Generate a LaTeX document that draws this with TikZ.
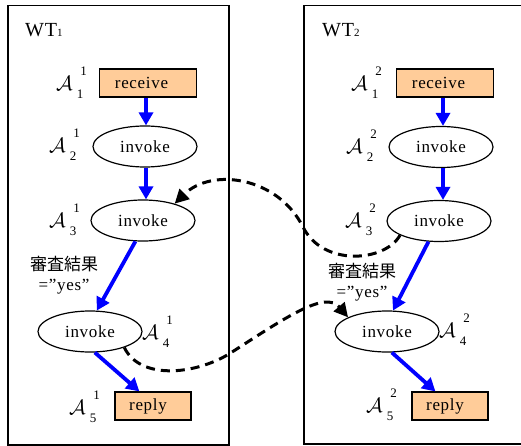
\documentclass[tikz,border=0pt]{standalone}
\usepackage{fontspec}
\setmainfont[LetterSpace=4]{Liberation Serif}
\newfontfamily\jpfont{Noto Sans CJK JP}
\usetikzlibrary{shapes.geometric,arrows.meta}
\definecolor{peach}{RGB}{255,204,153}
\newcommand{\actlbl}[2]{{\fontsize{22}{22}\selectfont$\mathcal{A}$}\kern4pt\raisebox{-8pt}{\fontsize{13}{13}\selectfont #1}\kern-3pt\raisebox{15pt}{\fontsize{13}{13}\selectfont #2}}

\begin{document}
\begin{tikzpicture}[x=1pt,y=-1pt,font=\fontsize{17}{20}\selectfont,
		frame/.style={line width=1.5pt},
		actbox/.style={draw,fill=peach,line width=1.2pt,minimum height=28pt,inner sep=0pt},
		invk/.style={draw,shape=ellipse,line width=1.2pt,minimum width=104pt,minimum height=41pt,inner sep=0pt},
		actlab/.style={anchor=base west,inner sep=0pt},
		cond/.style={align=center,inner sep=0pt},
		flow/.style={draw=blue,line width=3.8pt,-{Triangle[length=13pt,width=14pt]}},
		msg/.style={dash pattern=on 9pt off 6pt,line width=3pt,-{Triangle[length=14pt,width=14pt]}}]
			\useasboundingbox (0,0) rectangle (521,446);
			\draw[frame] (8,5.5) rectangle (229,445);
			\draw[frame] (304,5.5) rectangle (530,444);
			\node[anchor=base west,inner sep=0pt] (WA) at (25,37) {\fontsize{20}{20}\selectfont WT{\fontsize{11}{11}\selectfont 1}};
			\node[anchor=base west,inner sep=0pt] (WB) at (322,37) {\fontsize{20}{20}\selectfont WT{\fontsize{11}{11}\selectfont 2}};

			\node[actbox,minimum width=97pt] (LA) at (148,83) {receive\kern13pt};
			\node[invk] (LB) at (145,146.5) {invoke};
			\node[invk] (LC) at (143,220.5) {invoke};
			\node[invk] (LD) at (90,331.5) {invoke};
			\node[actbox,minimum width=76pt] (LE) at (153,406) {reply\kern10pt};

			\node[actbox,minimum width=97pt] (RA) at (445,83) {receive\kern13pt};
			\node[invk] (RB) at (441,147) {invoke};
			\node[invk] (RC) at (439,221) {invoke};
			\node[invk] (RD) at (387,331.5) {invoke};
			\node[actbox,minimum width=76pt] (RE) at (450,406) {reply\kern10pt};

			\node[actlab] (nLA) at (56,91) {\actlbl{1}{1}};
			\node[actlab] (nLB) at (49,153) {\actlbl{2}{1}};
			\node[actlab] (nLC) at (49,227) {\actlbl{3}{1}};
			\node[actlab] (nLD) at (142,339) {\actlbl{4}{1}};
			\node[actlab] (nLE) at (69,414) {\actlbl{5}{1}};
			\node[actlab] (nRA) at (351,91) {\actlbl{1}{2}};
			\node[actlab] (nRB) at (346,154) {\actlbl{2}{2}};
			\node[actlab] (nRC) at (345,227) {\actlbl{3}{2}};
			\node[actlab] (nRD) at (439,337) {\actlbl{4}{2}};
			\node[actlab] (nRE) at (366,412) {\actlbl{5}{2}};

			\node[cond] (cL) at (64,275) {{\jpfont 審査結果}\\=”yes”};
			\node[cond] (cR) at (362,282) {{\jpfont 審査結果}\\=”yes”};

			\draw[flow] ([xshift=-2pt]LA.south) -- ([xshift=-2pt]LA.south |- LB.north);
			\draw[flow] ([xshift=1pt]LB.south) -- ([xshift=1pt]LB.south |- LC.north);
			\draw[flow] (LC.250) -- (LD.72);
			\draw[flow] (LD.283) -- (LE.133);
			\draw[flow] ([xshift=-2pt]RA.south) -- ([xshift=-2pt]RA.south |- RB.north);
			\draw[flow] ([xshift=2pt]RB.south) -- ([xshift=2pt]RB.south |- RC.north);
			\draw[flow] (RC.243) -- (RD.74);
			\draw[flow] (RD.283) -- (RE.135);

			\coordinate (m1) at (229,354);
			\coordinate (m2) at (303,227);
			\draw[msg] (RC.200) .. controls (385,262) and (323,267) .. (m2) .. controls (278,177) and (212,167) .. (LC.28);
			\draw[msg] (LD.-25) .. controls (140,380) and (194,375) .. (m1) .. controls (285,318) and (325,290) .. (RD.160);
		\end{tikzpicture}
\end{document}
